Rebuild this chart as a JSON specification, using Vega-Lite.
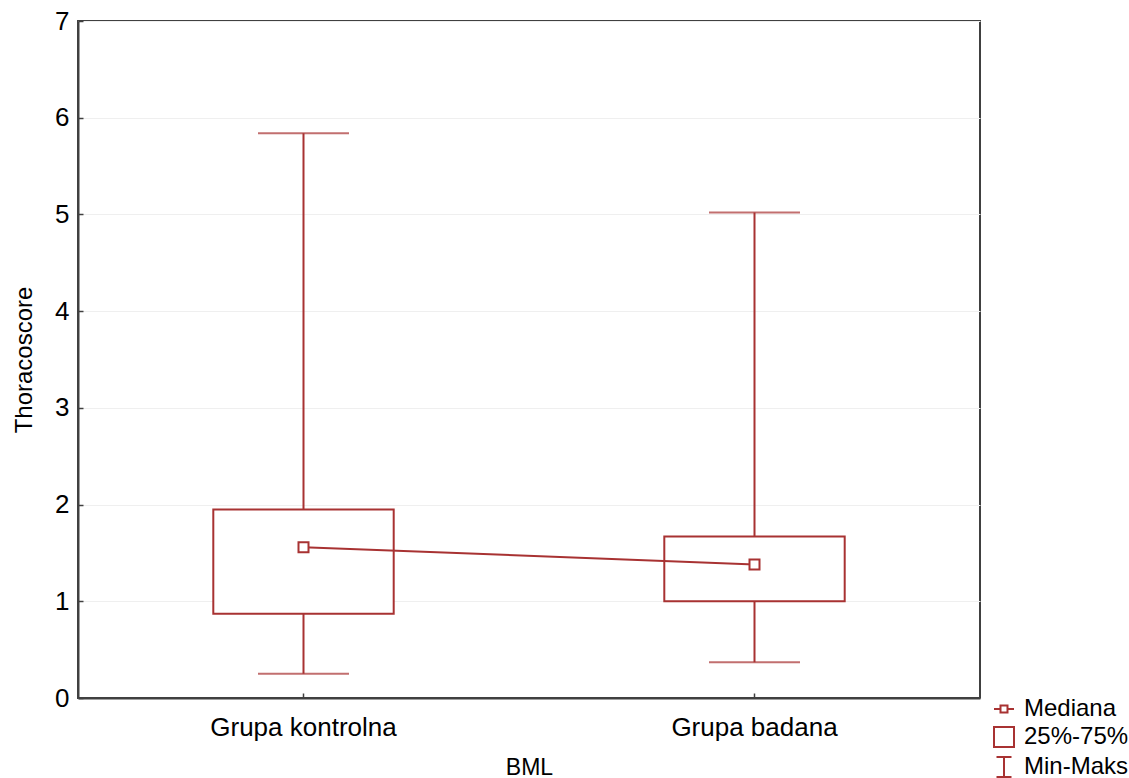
{
  "$schema": "https://vega.github.io/schema/vega-lite/v6.json",
  "width": 902,
  "height": 677,
  "autosize": {"type": "none"},
  "padding": {"left": 78, "top": 21, "right": 149, "bottom": 80},
  "background": "white",
  "config": {
    "font": "Liberation Sans",
    "view": {"stroke": "#404040", "strokeWidth": 2},
    "axis": {
      "domainColor": "#404040",
      "domainWidth": 2,
      "tickColor": "#404040",
      "tickWidth": 1.5,
      "labelColor": "black",
      "titleColor": "black",
      "titleFontWeight": "normal",
      "labelFont": "Liberation Sans",
      "titleFont": "Liberation Sans",
      "labelLimit": 400
    }
  },
  "data": {
    "values": [
      {"grupa": "Grupa kontrolna", "min": 0.25, "q1": 0.87, "median": 1.56, "q3": 1.95, "max": 5.84},
      {"grupa": "Grupa badana", "min": 0.37, "q1": 1.0, "median": 1.38, "q3": 1.67, "max": 5.02}
    ]
  },
  "resolve": {"axis": {"x": "independent", "y": "independent"}},
  "layer": [
    {
      "encoding": {
        "x": {
          "field": "grupa",
          "type": "nominal",
          "scale": {"domain": ["Grupa kontrolna", "Grupa badana"], "paddingInner": 0, "paddingOuter": 0},
          "axis": {
            "orient": "bottom",
            "title": "BML",
            "labelAngle": 0,
            "labelFontSize": 26,
            "titleFontSize": 23,
            "labelPadding": 16,
            "titlePadding": 16,
            "labelLimit": 400,
            "ticks": false,
            "grid": false
          }
        }
      },
      "layer": [
        {
          "mark": {"type": "rule", "color": "#a83232", "strokeWidth": 2},
          "encoding": {
            "y": {
              "field": "min",
              "type": "quantitative",
              "scale": {"domain": [0, 7], "nice": false, "zero": false},
              "axis": {
                "orient": "left",
                "title": "Thoracoscore",
                "values": [0, 1, 2, 3, 4, 5, 6, 7],
                "format": "d",
                "labelFontSize": 26,
                "titleFontSize": 24,
                "labelPadding": 9,
                "titlePadding": 18,
                "ticks": false,
                "grid": true,
                "gridColor": "#efefef",
                "gridWidth": 1
              }
            },
            "y2": {"field": "max"}
          }
        },
        {
          "mark": {"type": "bar", "fill": "white", "stroke": "#a83232", "strokeWidth": 2, "width": {"band": 0.4}},
          "encoding": {
            "y": {"field": "q1", "type": "quantitative"},
            "y2": {"field": "q3"}
          }
        },
        {
          "mark": {"type": "tick", "orient": "horizontal", "color": "#a83232", "size": 91, "thickness": 2},
          "encoding": {"y": {"field": "min", "type": "quantitative"}}
        },
        {
          "mark": {"type": "tick", "orient": "horizontal", "color": "#a83232", "size": 91, "thickness": 2},
          "encoding": {"y": {"field": "max", "type": "quantitative"}}
        },
        {
          "mark": {"type": "line", "color": "#a83232", "strokeWidth": 2},
          "encoding": {"y": {"field": "median", "type": "quantitative"}}
        },
        {
          "mark": {"type": "point", "shape": "square", "filled": true, "fill": "white", "stroke": "#a83232", "strokeWidth": 2, "size": 100, "opacity": 1},
          "encoding": {"y": {"field": "median", "type": "quantitative"}}
        },
        {
          "data": {"values": []},
          "mark": {"type": "point", "filled": false, "color": "#a83232", "strokeWidth": 2},
          "encoding": {
            "x": null,
            "shape": {
              "field": "k",
              "type": "nominal",
              "scale": {
                "domain": ["Mediana", "25%-75%", "Min-Maks"],
                "range": [
                  "M-1,0H-0.35M0.35,0H1M-0.35,-0.35H0.35V0.35H-0.35Z",
                  "M-1,-1H1V1H-1Z",
                  "M-0.75,-1H0.75M0,-1V1M-0.75,1H0.75"
                ]
              },
              "legend": {
                "title": null,
                "orient": "none",
                "legendX": 914,
                "legendY": 676,
                "padding": 0,
                "symbolSize": 400,
                "symbolStrokeWidth": 2,
                "symbolStrokeColor": "#a83232",
                "symbolFillColor": "transparent",
                "symbolOpacity": 1,
                "labelFontSize": 24,
                "labelColor": "black",
                "labelOffset": 8,
                "rowPadding": 2,
                "labelLimit": 200
              }
            }
          }
        }
      ]
    },
    {
      "data": {"values": []},
      "mark": {"type": "point"},
      "encoding": {
        "x": {
          "field": "grupa",
          "type": "nominal",
          "scale": {"domain": ["Grupa kontrolna", "Grupa badana"], "paddingInner": 0, "paddingOuter": 0},
          "axis": {"orient": "bottom", "offset": -5, "tickSize": 5, "labels": false, "domain": false, "grid": false, "title": null}
        },
        "y": {
          "field": "median",
          "type": "quantitative",
          "scale": {"domain": [0, 7], "nice": false, "zero": false},
          "axis": {"orient": "left", "offset": -5, "tickSize": 5, "values": [0, 1, 2, 3, 4, 5, 6, 7], "labels": false, "domain": false, "grid": false, "title": null}
        }
      }
    }
  ]
}
